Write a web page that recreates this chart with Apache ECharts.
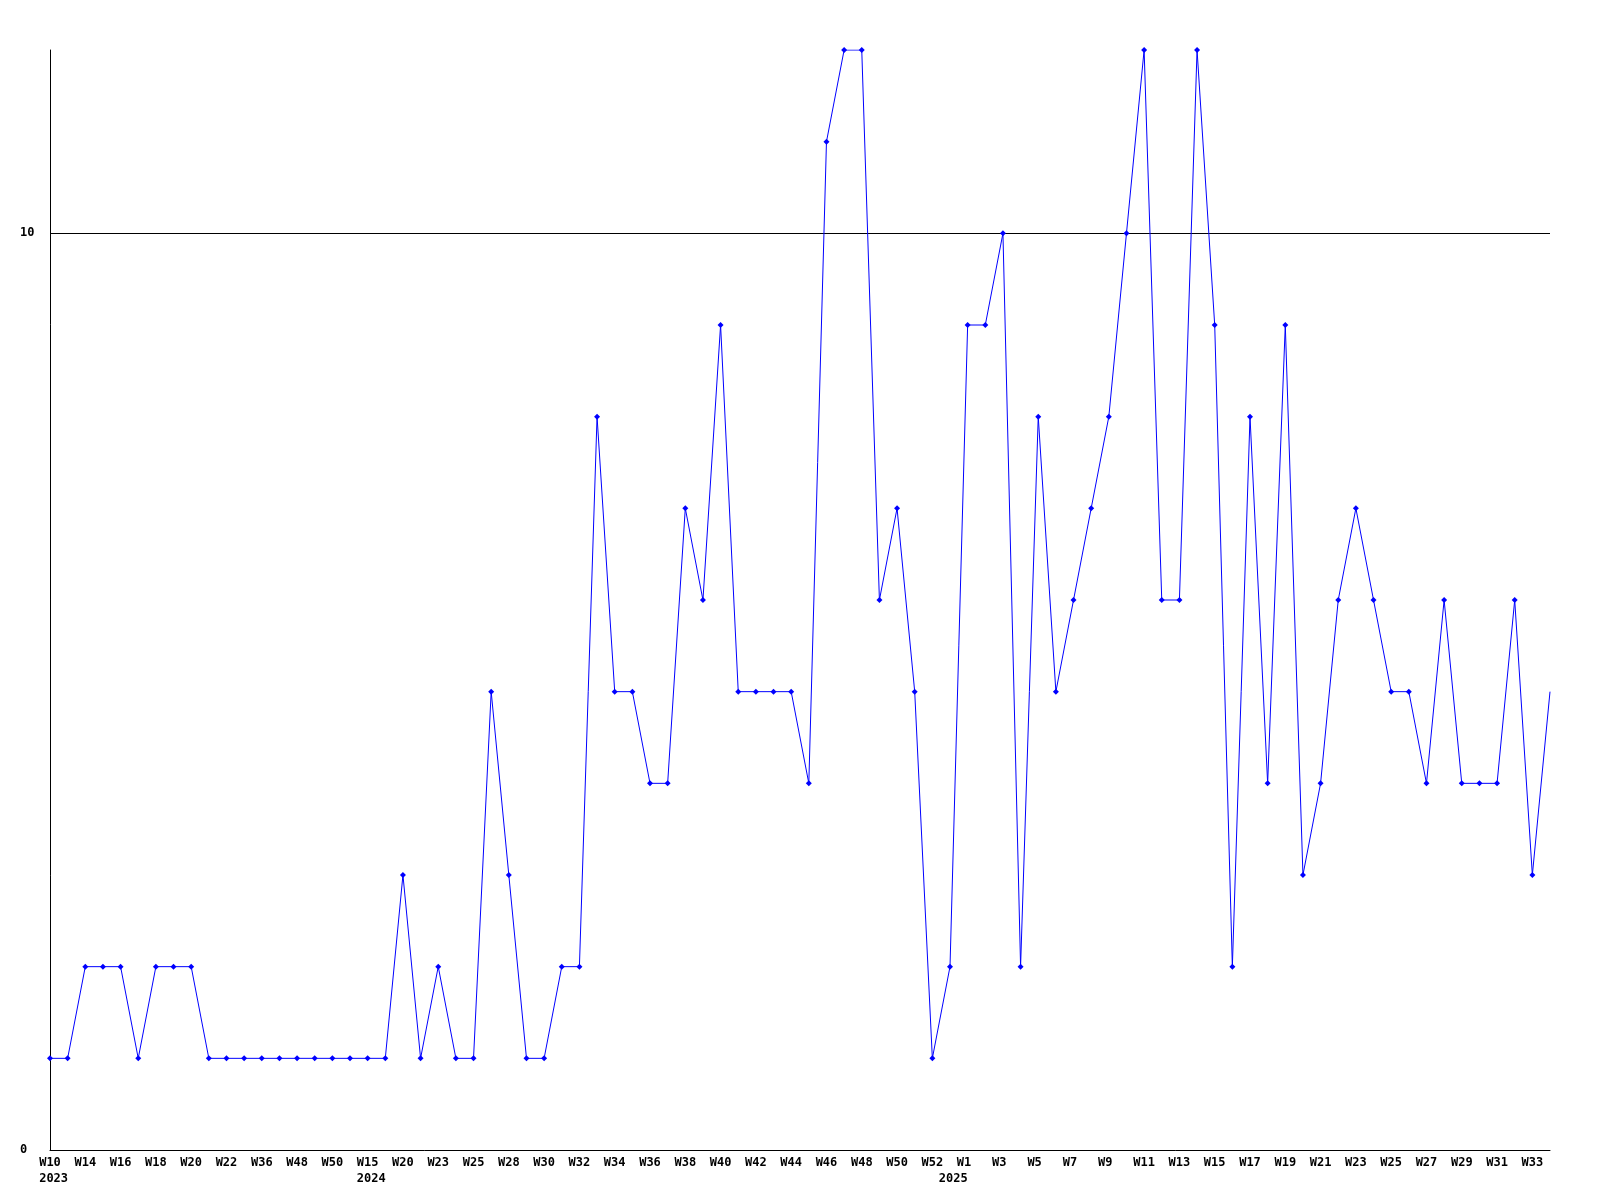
<!DOCTYPE html>
<html>
<head>
<meta charset="utf-8">
<script src="https://cdn.jsdelivr.net/npm/echarts@6/dist/echarts.min.js"></script>
<style>
  html, body { margin: 0; padding: 0; background: #ffffff; }
  #chart { width: 1600px; height: 1200px; }
</style>
</head>
<body>
<div id="chart"></div>
<script>
// Week categories (every other one is labelled on the axis)
const weeks = [
  'W10','W12','W14','W15','W16','W17','W18','W19','W20','W21',
  'W22','W24','W36','W40','W48','W49','W50','W2','W15','W17',
  'W20','W21','W23','W24','W25','W26','W28','W29','W30','W31',
  'W32','W33','W34','W35','W36','W37','W38','W39','W40','W41',
  'W42','W43','W44','W45','W46','W47','W48','W49','W50','W51',
  'W52','W53','W1','W2','W3','W4','W5','W6','W7','W8',
  'W9','W10','W11','W12','W13','W14','W15','W16','W17','W18',
  'W19','W20','W21','W22','W23','W24','W25','W26','W27','W28',
  'W29','W30','W31','W32','W33','W34'
];
// Year labels shown under certain week labels
const yearIdx = [0, 18, 52];
const years = ['2023', '2024', '2025'];
const yearAtEnd = [false, false, true];

// Series values
const values = [
  1, 1, 2, 2, 2, 1, 2, 2, 2, 1,
  1, 1, 1, 1, 1, 1, 1, 1, 1, 1,
  3, 1, 2, 1, 1, 5, 3, 1, 1, 2,
  2, 8, 5, 5, 4, 4, 7, 6, 9, 5,
  5, 5, 5, 4, 11, 12, 12, 6, 7, 5,
  1, 2, 9, 9, 10, 2, 8, 5, 6, 7,
  8, 10, 12, 6, 6, 12, 9, 2, 8, 4,
  9, 3, 4, 6, 7, 6, 5, 5, 4, 6,
  4, 4, 4, 6, 3, 5
];

// Y axis ticks
const yMin = 0, yMax = 12, yStep = 10;
const refLine = 10;

const chart = echarts.init(document.getElementById('chart'), null, { renderer: 'canvas' });
const lastIdx = values.length - 1;

chart.setOption({
  animation: false,
  backgroundColor: '#ffffff',
  grid: { left: 50, right: 50, top: 50, bottom: 50, containLabel: false, outerBoundsMode: 'none' },
  xAxis: {
    type: 'category',
    data: weeks,
    boundaryGap: false,
    axisLine: { show: true, lineStyle: { color: '#000000', width: 1 } },
    axisTick: { show: false },
    splitLine: { show: false },
    axisLabel: {
      interval: 1,
      margin: 5,
      color: '#000000',
      fontFamily: 'DejaVu Sans Mono',
      fontWeight: 'bold',
      fontSize: 12,
      lineHeight: 16,
      align: 'center',
      formatter: function (value, index) {
        const wk = value.length < 3 ? value + ' ' : value;
        const yi = yearIdx.indexOf(index);
        if (yi < 0) return wk;
        const yr = yearAtEnd[yi] ? years[yi] + '    ' : ' ' + years[yi];
        return wk + '\n' + yr;
      }
    }
  },
  yAxis: {
    type: 'value',
    min: yMin,
    max: yMax,
    interval: yStep,
    axisLine: { show: true, lineStyle: { color: '#000000', width: 1 } },
    axisTick: { show: false },
    splitLine: { show: false },
    axisLabel: {
      showMaxLabel: false,
      align: 'left',
      margin: 30,
      color: '#000000',
      fontFamily: 'DejaVu Sans Mono',
      fontWeight: 'bold',
      fontSize: 12
    }
  },
  series: [{
    type: 'line',
    data: values,
    symbol: function (v, params) { return params.dataIndex === lastIdx ? 'none' : 'diamond'; },
    symbolSize: 6,
    showAllSymbol: true,
    lineStyle: { color: '#0000ff', width: 1 },
    itemStyle: { color: '#0000ff' },
    z: 3,
    markLine: {
      silent: true,
      symbol: ['none', 'none'],
      label: { show: false },
      lineStyle: { color: '#000000', width: 1, type: 'solid' },
      data: [{ yAxis: refLine }],
      z: 1
    }
  }]
});
</script>
</body>
</html>
